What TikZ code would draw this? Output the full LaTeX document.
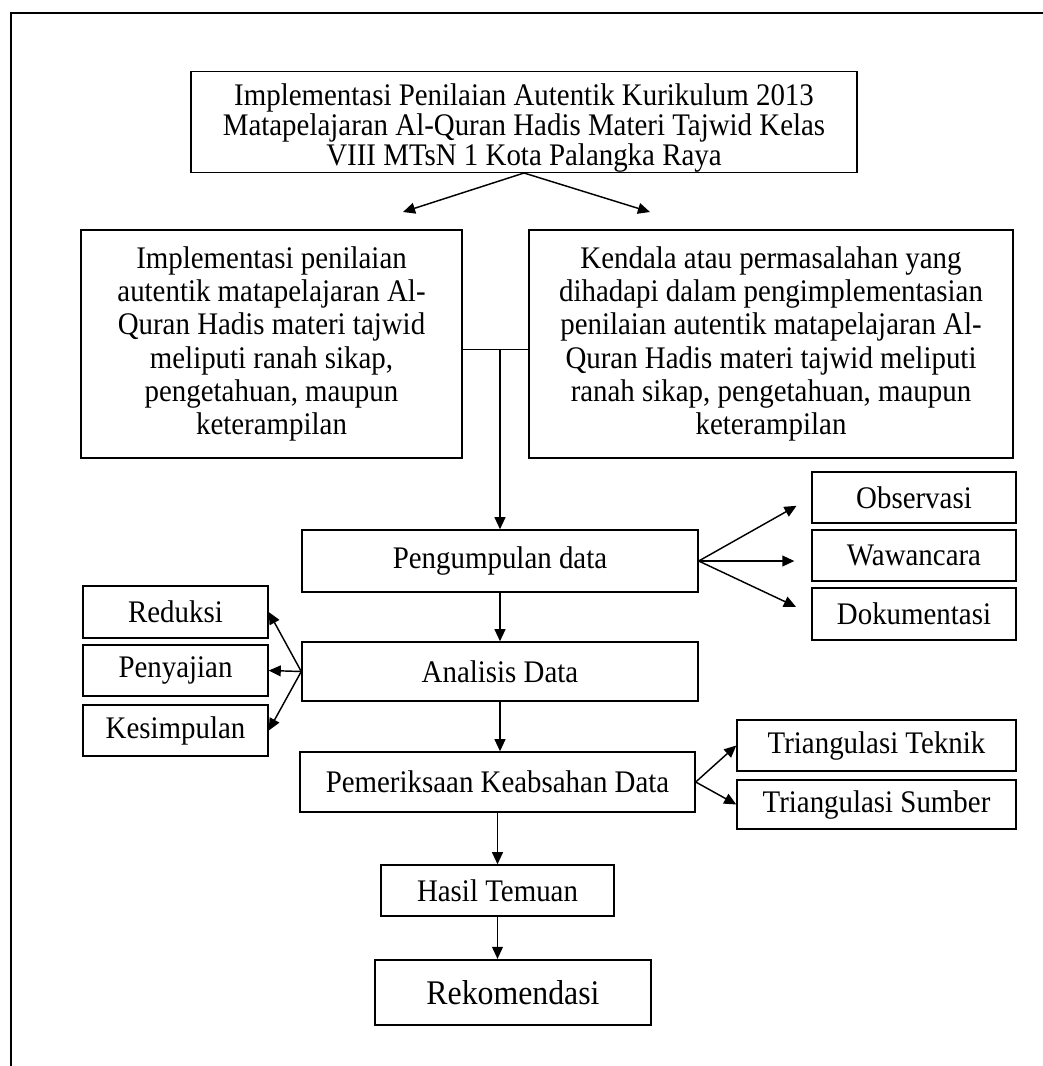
\documentclass[tikz,border=0pt]{standalone}
\usepackage{fontspec}
\setmainfont{Liberation Serif}[FakeStretch=0.92]
\usetikzlibrary{arrows.meta}

\begin{document}
\begin{tikzpicture}[x=0.4138pt, y=-0.4138pt,
    every node/.style={font=\fontsize{13}{13.8}\selectfont},
    kotak/.style 2 args={draw, line width=0.6pt, align=center, inner sep=0pt,
      minimum width=#1*0.4138pt, minimum height=#2*0.4138pt},
    panah/.style={-{Triangle[length=5pt, width=4.5pt]}, line width=0.6pt}]
    \useasboundingbox (0,0) rectangle (1043,1066);
    % bingkai luar
    \draw[line width=1.1pt] (11,1066) -- (11,13) -- (1043,13);

    % judul
    \node[kotak={666}{98}, font=\fontsize{13}{12.4}\selectfont] (judul) at (524,122)
      {\rule{0pt}{14pt}Implementasi Penilaian Autentik Kurikulum 2013\\
       Matapelajaran Al-Quran Hadis Materi Tajwid Kelas\\
       VIII MTsN 1 Kota Palangka Raya};
    \coordinate (kiri) at (403,212);
    \coordinate (kanan) at (650,212);
    \draw[panah] (judul.south) -- (kiri);
    \draw[panah] (judul.south) -- (kanan);

    % fokus penelitian
    \node[kotak={381}{228}] (impl) at (271.5,344)
      {Implementasi penilaian\\ autentik matapelajaran Al-\\ Quran Hadis materi tajwid\\
       meliputi ranah sikap,\\ pengetahuan, maupun\\ keterampilan};
    \node[kotak={484}{228}] (kendala) at (771,344)
      {Kendala atau permasalahan yang\\ dihadapi dalam pengimplementasian\\
       penilaian autentik matapelajaran Al-\\ Quran Hadis materi tajwid meliputi\\
       ranah sikap, pengetahuan, maupun\\ keterampilan};

    % alur penelitian
    \node[kotak={396}{62}] (kumpul) at (500,561) {Pengumpulan data};
    \node[kotak={396}{59}] (analisis) at (500,671.5) {Analisis Data};
    \node[kotak={395}{60}] (periksa) at (497.5,782) {Pemeriksaan Keabsahan Data};
    \node[kotak={233}{51}] (hasil) at (497.5,890.5) {Hasil Temuan};
    \node[kotak={276}{65}, line width=0.9pt, font=\fontsize{14.3}{16}\selectfont] (rekom) at (513,992.5) {Rekomendasi};

    \coordinate (sambung) at (500,349);
    \draw (impl.east |- sambung) -- (kendala.west |- sambung);
    \draw[panah] (sambung) -- (kumpul.north);
    \draw[panah] (kumpul) -- (analisis);
    \draw[panah] (analisis.south) -- (analisis.south |- periksa.north);
    \draw[panah] (periksa) -- (hasil);
    \draw[panah] (hasil.south) -- (hasil.south |- rekom.north);

    % teknik pengumpulan data
    \node[kotak={204}{51}] (obs) at (914,497.5) {Observasi};
    \node[kotak={204}{51}] (wawan) at (914,555.5) {Wawancara};
    \node[kotak={204}{52}] (doku) at (914,614) {Dokumentasi};
    \draw[panah, shorten >=7pt] (kumpul.east) -- (obs.west);
    \draw[panah, shorten >=7pt] (kumpul.east) -- (kumpul.east -| wawan.west);
    \draw[panah, shorten >=7pt] (kumpul.east) -- (doku.west);

    % analisis data
    \node[kotak={185}{52}] (reduksi) at (175.5,612) {Reduksi};
    \node[kotak={185}{51}] (sajian) at (175.5,670.5) {Penyajian};
    \node[kotak={185}{51}] (simpul) at (175.5,730.5) {Kesimpulan};
    \foreach \t in {reduksi,sajian,simpul}
      \draw[panah] (analisis.west) -- (\t.east);

    % keabsahan data
    \node[kotak={279}{51}] (teknik) at (876.5,745.5) {Triangulasi Teknik};
    \node[kotak={279}{49}] (sumber) at (876.5,804.5) {Triangulasi Sumber};
    \draw[panah] (periksa.east) -- (teknik.west);
    \draw[panah] (periksa.east) -- (sumber.west);
\end{tikzpicture}
\end{document}
